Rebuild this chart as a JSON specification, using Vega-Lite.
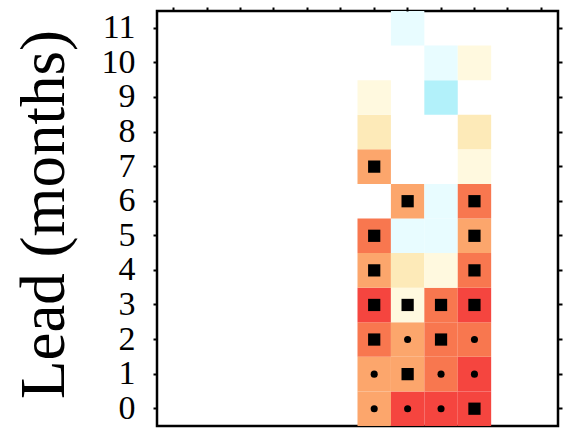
{
  "$schema": "https://vega.github.io/schema/vega-lite/v6.json",
  "width": 401,
  "height": 415,
  "autosize": "none",
  "padding": {"left": 157, "top": 11, "right": 6, "bottom": 3},
  "background": "white",
  "config": {
    "view": {"stroke": "black", "strokeWidth": 2.5},
    "axis": {"domain": false, "grid": false, "tickColor": "black", "tickWidth": 2, "tickSize": 4}
  },
  "data": {
    "values": [
      {"col": 6, "lead": 0, "level": 3, "sig": "dot"},
      {"col": 6, "lead": 1, "level": 3, "sig": "dot"},
      {"col": 6, "lead": 2, "level": 4, "sig": "square"},
      {"col": 6, "lead": 3, "level": 5, "sig": "square"},
      {"col": 6, "lead": 4, "level": 3, "sig": "square"},
      {"col": 6, "lead": 5, "level": 4, "sig": "square"},
      {"col": 6, "lead": 7, "level": 3, "sig": "square"},
      {"col": 6, "lead": 8, "level": 2, "sig": null},
      {"col": 6, "lead": 9, "level": 1, "sig": null},
      {"col": 7, "lead": 0, "level": 5, "sig": "dot"},
      {"col": 7, "lead": 1, "level": 3, "sig": "square"},
      {"col": 7, "lead": 2, "level": 3, "sig": "dot"},
      {"col": 7, "lead": 3, "level": 1, "sig": "square"},
      {"col": 7, "lead": 4, "level": 2, "sig": null},
      {"col": 7, "lead": 5, "level": -1, "sig": null},
      {"col": 7, "lead": 6, "level": 3, "sig": "square"},
      {"col": 7, "lead": 11, "level": -1, "sig": null},
      {"col": 8, "lead": 0, "level": 5, "sig": "dot"},
      {"col": 8, "lead": 1, "level": 4, "sig": "dot"},
      {"col": 8, "lead": 2, "level": 4, "sig": "square"},
      {"col": 8, "lead": 3, "level": 4, "sig": "square"},
      {"col": 8, "lead": 4, "level": 1, "sig": null},
      {"col": 8, "lead": 5, "level": -1, "sig": null},
      {"col": 8, "lead": 6, "level": -1, "sig": null},
      {"col": 8, "lead": 9, "level": -2, "sig": null},
      {"col": 8, "lead": 10, "level": -1, "sig": null},
      {"col": 9, "lead": 0, "level": 5, "sig": "square"},
      {"col": 9, "lead": 1, "level": 5, "sig": "dot"},
      {"col": 9, "lead": 2, "level": 4, "sig": "dot"},
      {"col": 9, "lead": 3, "level": 5, "sig": "square"},
      {"col": 9, "lead": 4, "level": 4, "sig": "square"},
      {"col": 9, "lead": 5, "level": 3, "sig": "square"},
      {"col": 9, "lead": 6, "level": 4, "sig": "square"},
      {"col": 9, "lead": 7, "level": 1, "sig": null},
      {"col": 9, "lead": 8, "level": 2, "sig": null},
      {"col": 9, "lead": 10, "level": 1, "sig": null}
    ]
  },
  "layer": [
    {
      "mark": {"type": "rect"},
      "encoding": {
        "x": {
          "field": "col", "type": "ordinal",
          "scale": {"domain": [0,1,2,3,4,5,6,7,8,9,10,11], "paddingInner": 0, "paddingOuter": 0},
          "axis": {"orient": "top", "labels": false, "title": null}
        },
        "y": {
          "field": "lead", "type": "ordinal",
          "scale": {"domain": [11,10,9,8,7,6,5,4,3,2,1,0], "paddingInner": 0, "paddingOuter": 0},
          "axis": {
            "orient": "left", "title": "Lead (months)",
            "labelFont": "Liberation Serif", "labelFontSize": 34, "labelColor": "black",
            "labelPadding": 18, "labelOverlap": false, "labelBaseline": "middle",
            "titleFont": "Liberation Serif", "titleFontSize": 63, "titleFontWeight": "normal",
            "titleColor": "black", "titleX": -94, "titleY": 203, "titleBaseline": "alphabetic"
          }
        },
        "color": {
          "field": "level", "type": "ordinal",
          "scale": {
            "domain": [-2, -1, 1, 2, 3, 4, 5],
            "range": ["#b2f1fa", "#e8fcff", "#fff9df", "#fdeab8", "#fca66c", "#f8774f", "#f5453f"]
          },
          "legend": null
        }
      }
    },
    {
      "transform": [{"filter": "datum.sig != null"}],
      "mark": {"type": "point", "filled": true, "color": "black", "opacity": 1},
      "encoding": {
        "x": {"field": "col", "type": "ordinal", "axis": null},
        "y": {"field": "lead", "type": "ordinal", "axis": {"orient": "right", "labels": false, "title": null}},
        "shape": {"field": "sig", "type": "nominal", "scale": {"domain": ["square", "dot"], "range": ["square", "circle"]}, "legend": null},
        "size": {"field": "sig", "type": "nominal", "scale": {"domain": ["square", "dot"], "range": [150, 50]}, "legend": null}
      }
    }
  ],
  "resolve": {"axis": {"y": "independent", "x": "independent"}}
}
